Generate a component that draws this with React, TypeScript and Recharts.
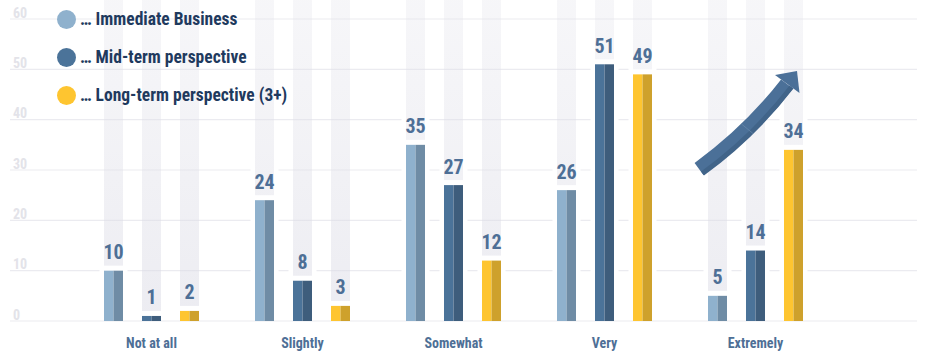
import React from 'react';
import { BarChart, Bar, XAxis, YAxis, CartesianGrid, Legend } from 'recharts';

const categories = ['Not at all', 'Slightly', 'Somewhat', 'Very', 'Extremely'];
const immediate = [10, 24, 35, 26, 5];
const midTerm = [1, 8, 27, 51, 14];
const longTerm = [2, 3, 12, 49, 34];
const yTicks = [0, 10, 20, 30, 40, 50, 60];
const seriesNames = ['… Immediate Business', '… Mid-term perspective', '… Long-term perspective (3+)'];

const data = categories.map((c, i) => ({
  category: c,
  immediate: immediate[i],
  midTerm: midTerm[i],
  longTerm: longTerm[i],
}));

const FONT = '"Liberation Sans Narrow", "Roboto Condensed", Roboto, sans-serif';

const makeShape = (key: string, light: string, dark: string) => (props: any) => {
  const { x, y, width, height, index } = props;
  const value = props.payload ? props.payload[key] : props.value;
  const base = y + height;
  const gid = `band-${key}-${index}`;
  const half = width / 2;
  return (
    <g>
      <defs>
        <linearGradient id={gid} x1="0" y1="0" x2="0" y2={base} gradientUnits="userSpaceOnUse">
          <stop offset="0" stopColor="#e2e2ea" stopOpacity={0.3} />
          <stop offset="1" stopColor="#d9d9e4" stopOpacity={0.5} />
        </linearGradient>
      </defs>
      <rect x={x - 4.5} y={y - 32} width={width + 9} height={base - (y - 32) - 1.5} fill="#ffffff" />
      <rect x={x} y={0} width={width} height={Math.max(0, y - 5)} fill={`url(#${gid})`} />
      <rect x={x} y={y} width={half} height={height} fill={light} />
      <rect x={x + half} y={y} width={width - half} height={height} fill={dark} />
      <text
        x={x + width / 2}
        y={y - 18.5}
        textAnchor="middle"
        dominantBaseline="central"
        fill="#4e6f96"
        fontSize={20}
        fontWeight={700}
        fontFamily={FONT}
      >
        {value}
      </text>
    </g>
  );
};

const LeftTick = (props: any) => (
  <text x={13} y={props.y - 6.5} dominantBaseline="central" textAnchor="start" fill="#e3e3e9" fontSize={14} fontWeight={700} fontFamily={FONT}>
    {props.payload.value}
  </text>
);
const RightTick = (props: any) => (
  <text x={916} y={props.y - 6.5} dominantBaseline="central" textAnchor="end" fill="#e3e3e9" fontSize={14} fontWeight={700} fontFamily={FONT}>
    {props.payload.value}
  </text>
);

const XTick = (props: any) => (
  <text x={props.x} y={props.y + 14} textAnchor="middle" dominantBaseline="central" fill="#4e6f96" fontSize={14} fontWeight={700} fontFamily={FONT}>
    {props.payload.value}
  </text>
);

const LegendContent = (props: any) => {
  const items = [...(props.payload || [])].sort(
    (a: any, b: any) => seriesNames.indexOf(a.value) - seriesNames.indexOf(b.value)
  );
  return (
    <div style={{ fontFamily: FONT }}>
      {items.map((it: any, i: number) => (
        <div key={i} style={{ display: 'flex', alignItems: 'center', height: 38 }}>
          <div style={{ width: 19, height: 19, borderRadius: '50%', background: it.color, marginRight: 4, flexShrink: 0 }} />
          <span style={{ color: '#1f3a5e', fontSize: 17.5, fontWeight: 700, whiteSpace: 'nowrap' }}>{it.value}</span>
        </div>
      ))}
    </div>
  );
};

const ArrowOverlay = () => (
  <svg width={925} height={358} style={{ position: 'absolute', left: 0, top: 0, pointerEvents: 'none' }}>
    <path d="M 699 169 Q 750 132 787 84" stroke="#4b7098" strokeWidth={15} fill="none" />
    <path d="M 702.5 173.5 Q 753 137 791.5 87" stroke="#416489" strokeWidth={5} fill="none" />
    <path d="M 775 75 L 797 71 L 799.5 93 Z" fill="#4b7098" />
    <path d="M 741.5 124 L 753 133.5" stroke="#6f8fb0" strokeWidth={0.6} />
  </svg>
);

export default function App() {
  return (
    <div style={{ position: 'absolute', left: 0, top: 0, width: 925, height: 358, background: '#fff' }}>
      <BarChart
        width={925}
        height={358}
        data={data}
        margin={{ top: 19, right: 7, bottom: 0, left: 9 }}
        barSize={19}
        barGap={19}
      >
        <CartesianGrid vertical={false} stroke="#ebebf0" strokeWidth={1.2} />
        <XAxis
          dataKey="category"
          height={37}
          axisLine={false}
          tickLine={false}
          padding={{ left: 66, right: 86 }}
          tick={<XTick />}
          interval={0}
        />
        <YAxis domain={[0, 60]} ticks={yTicks} width={1} axisLine={false} tickLine={false} tick={<LeftTick />} interval={0} />
        <YAxis yAxisId="right" orientation="right" domain={[0, 60]} ticks={yTicks} width={1} axisLine={false} tickLine={false} tick={<RightTick />} interval={0} />
        <Legend
          layout="vertical"
          align="center"
          verticalAlign="middle"
          wrapperStyle={{ position: 'absolute', left: 57, top: 0, width: 'auto', height: 'auto' }}
          content={<LegendContent />}
        />
        <Bar dataKey="immediate" name={seriesNames[0]} fill="#8fb1cd" isAnimationActive={false} shape={makeShape('immediate', '#8fb1cd', '#6f8ca5')} />
        <Bar dataKey="midTerm" name={seriesNames[1]} fill="#4b7399" isAnimationActive={false} shape={makeShape('midTerm', '#4b7399', '#3e5d7c')} />
        <Bar dataKey="longTerm" name={seriesNames[2]} fill="#fec530" isAnimationActive={false} shape={makeShape('longTerm', '#fec530', '#cea12c')} />
      </BarChart>
      <ArrowOverlay />
    </div>
  );
}
